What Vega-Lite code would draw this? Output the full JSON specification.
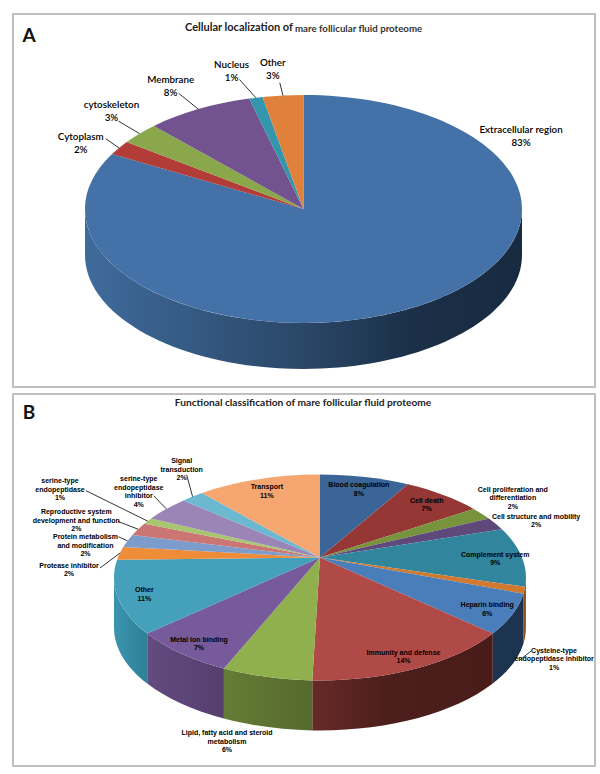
{"$schema":"https://vega.github.io/schema/vega-lite/v6.json","padding":{"left":12,"top":13,"right":5,"bottom":10},"background":"white","spacing":5,"resolve":{"scale":{"fill":"independent","x":"independent","y":"independent","shape":"independent"}},"config":{"view":{"stroke":"#bfbfbf","strokeWidth":2},"style":{"la":{"font":"Lato","fontSize":9.8,"fontWeight":600,"lineHeight":13,"fill":"#2b2b2b","align":"center","baseline":"middle"},"lb":{"font":"Liberation Sans","fontSize":7,"fontWeight":"bold","lineHeight":8.5,"fill":"#333333","align":"center","baseline":"middle"},"lc":{"font":"Liberation Sans","fontSize":7,"fontWeight":"bold","lineHeight":8.5,"fill":"#14142a","align":"center","baseline":"middle"},"lead":{"stroke":"#a6a6a6","strokeWidth":0.8}}},"vconcat":[{"width":582,"height":373,"layer":[{"data":{"values":[{"order":1,"name":"Extracellular region","value":83,"lines":["Extracellular region","83%"]},{"order":2,"name":"Cytoplasm","value":2,"lines":["Cytoplasm","2%"]},{"order":3,"name":"cytoskeleton","value":3,"lines":["cytoskeleton","3%"]},{"order":4,"name":"Membrane","value":8,"lines":["Membrane","8%"]},{"order":5,"name":"Nucleus","value":1,"lines":["Nucleus","1%"]},{"order":6,"name":"Other","value":3,"lines":["Other","3%"]}]},"transform":[{"stack":"value","groupby":[],"sort":[{"field":"order"}],"offset":"normalize","as":["f0","f1"]},{"calculate":"290.5","as":"cx"},{"calculate":"195","as":"cy"},{"calculate":"2*PI*datum.f0","as":"p1"},{"calculate":"2*PI*datum.f1","as":"p2"},{"calculate":"(datum.p1+datum.p2)/2","as":"pm"},{"calculate":"round(218.5*sin(datum.p1)*100)/100","as":"x1"},{"calculate":"round(-114*cos(datum.p1)*100)/100","as":"y1"},{"calculate":"round(218.5*sin(datum.p2)*100)/100","as":"x2"},{"calculate":"round(-114*cos(datum.p2)*100)/100","as":"y2"},{"calculate":"'M0,0L'+datum.x1+','+datum.y1+'A218.5,114 0 '+(datum.p2-datum.p1>PI?1:0)+' 1 '+datum.x2+','+datum.y2+'Z'","as":"top"},{"calculate":"max(datum.p1,PI/2)","as":"w1"},{"calculate":"min(datum.p2,3*PI/2)","as":"w2"},{"calculate":"round(218.5*sin(datum.w1)*100)/100","as":"wx1"},{"calculate":"round(-114*cos(datum.w1)*100)/100","as":"wy1"},{"calculate":"round(218.5*sin(datum.w2)*100)/100","as":"wx2"},{"calculate":"round(-114*cos(datum.w2)*100)/100","as":"wy2"},{"calculate":"'M'+datum.wx1+','+datum.wy1+'A218.5,114 0 0 1 '+datum.wx2+','+datum.wy2+'L'+datum.wx2+','+(datum.wy2+46)+'A218.5,114 0 0 0 '+datum.wx1+','+(datum.wy1+46)+'Z'","as":"wall"},{"calculate":"datum.cx+218.5*sin(datum.pm)","as":"rimx"},{"calculate":"datum.cy-114*cos(datum.pm)","as":"rimy"},{"calculate":"datum.cx+284*sin(datum.pm)","as":"lx"},{"calculate":"datum.cy-148*cos(datum.pm)","as":"ly"},{"calculate":"datum.ly-(length(datum.lines)-1)*6.5","as":"tly"}],"layer":[{"encoding":{"x":{"field":"cx","type":"quantitative","scale":null},"y":{"field":"cy","type":"quantitative","scale":null},"shape":{"field":"wall","type":"nominal","scale":null}},"layer":[{"transform":[{"filter":"datum.order===1"}],"mark":{"type":"point","filled":true,"opacity":1,"size":4,"strokeWidth":0,"fill":{"gradient":"linear","x1":0,"y1":0,"x2":1,"y2":0,"stops":[{"offset":0,"color":"#3f6b9c"},{"offset":0.5,"color":"#2a4767"},{"offset":0.75,"color":"#1b2f48"},{"offset":1,"color":"#172a40"}]}}}]},{"mark":{"type":"point","filled":true,"opacity":1,"size":4,"strokeWidth":0},"encoding":{"x":{"field":"cx","type":"quantitative","scale":null},"y":{"field":"cy","type":"quantitative","scale":null},"shape":{"field":"top","type":"nominal","scale":null},"fill":{"field":"name","type":"nominal","legend":null,"scale":{"domain":["Extracellular region","Cytoplasm","cytoskeleton","Membrane","Nucleus","Other"],"range":["#4471a7","#b23c38","#8aa84b","#72528f","#3496ad","#df813a"]}}}},{"encoding":{"x":{"field":"rimx","type":"quantitative","scale":null},"y":{"field":"rimy","type":"quantitative","scale":null},"x2":{"field":"lx"},"y2":{"field":"ly"}},"layer":[{"transform":[{"filter":"datum.name==='Cytoplasm'"}],"mark":{"type":"rule","style":"lead","x2Offset":42,"y2Offset":9}},{"transform":[{"filter":"datum.name==='cytoskeleton'"}],"mark":{"type":"rule","style":"lead","x2Offset":28,"y2Offset":10}},{"transform":[{"filter":"datum.name==='Membrane'"}],"mark":{"type":"rule","style":"lead","x2Offset":12,"y2Offset":14}},{"transform":[{"filter":"datum.name==='Nucleus'"}],"mark":{"type":"rule","style":"lead","x2Offset":-2,"y2Offset":15}},{"transform":[{"filter":"datum.name==='Other'"}],"mark":{"type":"rule","style":"lead","x2Offset":3,"y2Offset":21}}]},{"encoding":{"x":{"field":"lx","type":"quantitative","scale":null},"y":{"field":"tly","type":"quantitative","scale":null},"text":{"field":"lines"}},"layer":[{"transform":[{"filter":"datum.name==='Extracellular region'"}],"mark":{"type":"text","style":"la","dx":73,"dy":-200}},{"transform":[{"filter":"datum.name==='Cytoplasm'"}],"mark":{"type":"text","style":"la","dx":17,"dy":14}},{"transform":[{"filter":"datum.name==='cytoskeleton'"}],"mark":{"type":"text","style":"la","dx":21,"dy":0}},{"transform":[{"filter":"datum.name==='Membrane'"}],"mark":{"type":"text","style":"la","dx":4,"dy":7}},{"transform":[{"filter":"datum.name==='Nucleus'"}],"mark":{"type":"text","style":"la","dx":-10,"dy":7}},{"transform":[{"filter":"datum.name==='Other'"}],"mark":{"type":"text","style":"la","dx":-4,"dy":8}}]}]},{"data":{"values":[{"t":"A"}]},"mark":{"type":"text","font":"Lato","fontWeight":"bold","fontSize":19,"fill":"#111111","dx":-275,"dy":-165},"encoding":{"text":{"field":"t"}}},{"data":{"values":[{"t":"Cellular localization of"}]},"mark":{"type":"text","font":"Lato","fontWeight":"bold","fontSize":11,"fill":"#222222","align":"right","dx":-11,"dy":-173},"encoding":{"text":{"field":"t"}}},{"data":{"values":[{"t":"mare follicular fluid proteome"}]},"mark":{"type":"text","font":"Lato","fontWeight":"bold","fontSize":9.7,"fill":"#333333","align":"left","dx":-9,"dy":-172},"encoding":{"text":{"field":"t"}}}]},{"width":582,"height":372,"layer":[{"data":{"values":[{"order":1,"name":"Blood coagulation","value":8,"lines":["Blood coagulation","8%"]},{"order":2,"name":"Cell death","value":7,"lines":["Cell death","7%"]},{"order":3,"name":"Cell proliferation and differentiation","value":2,"lines":["Cell proliferation and","differentiation","2%"]},{"order":4,"name":"Cell structure and mobility","value":2,"lines":["Cell structure and mobility","2%"]},{"order":5,"name":"Complement system","value":9,"lines":["Complement system","9%"]},{"order":6,"name":"Cysteine-type endopeptidase inhibitor","value":1,"lines":["Cysteine-type","endopeptidase inhibitor","1%"]},{"order":7,"name":"Heparin binding","value":6,"lines":["Heparin binding","6%"]},{"order":8,"name":"Immunity and defense","value":14,"lines":["Immunity and defense","14%"]},{"order":9,"name":"Lipid, fatty acid and steroid metabolism","value":6,"lines":["Lipid, fatty acid and steroid","metabolism","6%"]},{"order":10,"name":"Metal ion binding","value":7,"lines":["Metal ion binding","7%"]},{"order":11,"name":"Other B","value":11,"lines":["Other","11%"]},{"order":12,"name":"Protease inhibitor","value":2,"lines":["Protease inhibitor","2%"]},{"order":13,"name":"Protein metabolism and modification","value":2,"lines":["Protein metabolism","and modification","2%"]},{"order":14,"name":"Reproductive system development and function","value":2,"lines":["Reproductive system","development and function","2%"]},{"order":15,"name":"serine-type endopeptidase","value":1,"lines":["serine-type","endopeptidase","1%"]},{"order":16,"name":"serine-type endopeptidase inhibitor","value":4,"lines":["serine-type","endopeptidase","inhibitor","4%"]},{"order":17,"name":"Signal transduction","value":2,"lines":["Signal","transduction","2%"]},{"order":18,"name":"Transport","value":11,"lines":["Transport","11%"]}]},"transform":[{"stack":"value","groupby":[],"sort":[{"field":"order"}],"offset":"normalize","as":["f0","f1"]},{"calculate":"307","as":"cx"},{"calculate":"183.5","as":"cy"},{"calculate":"2*PI*datum.f0","as":"a1"},{"calculate":"2*PI*datum.f1","as":"a2"},{"calculate":"datum.a1-0.157*sin(datum.a1)","as":"p1"},{"calculate":"datum.a2-0.157*sin(datum.a2)","as":"p2"},{"calculate":"(datum.a1+datum.a2)/2-0.157*sin((datum.a1+datum.a2)/2)","as":"pm"},{"calculate":"round(206*sin(datum.p1)*100)/100","as":"x1"},{"calculate":"round(-103*cos(datum.p1)*100)/100","as":"y1"},{"calculate":"round(206*sin(datum.p2)*100)/100","as":"x2"},{"calculate":"round(-103*cos(datum.p2)*100)/100","as":"y2"},{"calculate":"'M0,-20L'+datum.x1+','+datum.y1+'A206,103 0 '+(datum.p2-datum.p1>PI?1:0)+' 1 '+datum.x2+','+datum.y2+'Z'","as":"top"},{"calculate":"max(datum.p1,PI/2)","as":"w1"},{"calculate":"min(datum.p2,3*PI/2)","as":"w2"},{"calculate":"round(206*sin(datum.w1)*100)/100","as":"wx1"},{"calculate":"round(-103*cos(datum.w1)*100)/100","as":"wy1"},{"calculate":"round(206*sin(datum.w2)*100)/100","as":"wx2"},{"calculate":"round(-103*cos(datum.w2)*100)/100","as":"wy2"},{"calculate":"'M'+datum.wx1+','+datum.wy1+'A206,103 0 0 1 '+datum.wx2+','+datum.wy2+'L'+datum.wx2+','+(datum.wy2+50)+'A206,103 0 0 0 '+datum.wx1+','+(datum.wy1+50)+'Z'","as":"wall"},{"calculate":"datum.cx+206*sin(datum.pm)","as":"rimx"},{"calculate":"datum.cy-103*cos(datum.pm)","as":"rimy"},{"calculate":"datum.cx+251*sin(datum.pm)","as":"lx"},{"calculate":"datum.cy-125.7*cos(datum.pm)","as":"ly"},{"calculate":"datum.ly-(length(datum.lines)-1)*4.25","as":"tly"},{"calculate":"datum.cx+179*sin(datum.pm)","as":"ix"},{"calculate":"datum.cy-90*cos(datum.pm)-(length(datum.lines)-1)*4.25","as":"iy"}],"layer":[{"encoding":{"x":{"field":"cx","type":"quantitative","scale":null},"y":{"field":"cy","type":"quantitative","scale":null},"shape":{"field":"wall","type":"nominal","scale":null}},"layer":[{"transform":[{"filter":"datum.order===5"}],"mark":{"type":"point","filled":true,"opacity":1,"size":4,"strokeWidth":0,"fill":"#235f70"}},{"transform":[{"filter":"datum.order===6"}],"mark":{"type":"point","filled":true,"opacity":1,"size":4,"strokeWidth":0,"fill":"#8a5320"}},{"transform":[{"filter":"datum.order===7"}],"mark":{"type":"point","filled":true,"opacity":1,"size":4,"strokeWidth":0,"fill":"#1c3450"}},{"transform":[{"filter":"datum.order===8"}],"mark":{"type":"point","filled":true,"opacity":1,"size":4,"strokeWidth":0,"fill":{"gradient":"linear","x1":0,"y1":0,"x2":1,"y2":0,"stops":[{"offset":0,"color":"#662a28"},{"offset":0.4,"color":"#4d1f1c"},{"offset":1,"color":"#4a1c19"}]}}},{"transform":[{"filter":"datum.order===9"}],"mark":{"type":"point","filled":true,"opacity":1,"size":4,"strokeWidth":0,"fill":{"gradient":"linear","x1":0,"y1":0,"x2":1,"y2":0,"stops":[{"offset":0,"color":"#647d35"},{"offset":1,"color":"#56692f"}]}}},{"transform":[{"filter":"datum.order===10"}],"mark":{"type":"point","filled":true,"opacity":1,"size":4,"strokeWidth":0,"fill":{"gradient":"linear","x1":0,"y1":0,"x2":1,"y2":0,"stops":[{"offset":0,"color":"#634a80"},{"offset":1,"color":"#553f6e"}]}}},{"transform":[{"filter":"datum.order===11"}],"mark":{"type":"point","filled":true,"opacity":1,"size":4,"strokeWidth":0,"fill":{"gradient":"linear","x1":0,"y1":0,"x2":1,"y2":0,"stops":[{"offset":0,"color":"#3b94ae"},{"offset":1,"color":"#2f8097"}]}}}]},{"mark":{"type":"point","filled":true,"opacity":1,"size":4,"strokeWidth":0},"encoding":{"x":{"field":"cx","type":"quantitative","scale":null},"y":{"field":"cy","type":"quantitative","scale":null},"shape":{"field":"top","type":"nominal","scale":null},"fill":{"field":"name","type":"nominal","legend":null,"scale":{"domain":["Blood coagulation","Cell death","Cell proliferation and differentiation","Cell structure and mobility","Complement system","Cysteine-type endopeptidase inhibitor","Heparin binding","Immunity and defense","Lipid, fatty acid and steroid metabolism","Metal ion binding","Other B","Protease inhibitor","Protein metabolism and modification","Reproductive system development and function","serine-type endopeptidase","serine-type endopeptidase inhibitor","Signal transduction","Transport"],"range":["#3b6596","#953735","#77933c","#5f497a","#31859c","#d17a2f","#4a7ebb","#b04a47","#8fb04d","#765a9b","#45a0bc","#ef8c37","#7c9dcc","#cc7575","#a8c570","#9b84b6","#6bb8d0","#f5a671"]}}}},{"encoding":{"x":{"field":"rimx","type":"quantitative","scale":null},"y":{"field":"rimy","type":"quantitative","scale":null},"x2":{"field":"lx"},"y2":{"field":"ly"}},"layer":[{"transform":[{"filter":"datum.order===15"}],"mark":{"type":"rule","style":"lead","x2Offset":-24,"y2Offset":-18}},{"transform":[{"filter":"datum.order===14"}],"mark":{"type":"rule","style":"lead","x2Offset":20,"y2Offset":3}},{"transform":[{"filter":"datum.order===13"}],"mark":{"type":"rule","style":"lead","x2Offset":33,"y2Offset":4}},{"transform":[{"filter":"datum.order===12"}],"mark":{"type":"rule","style":"lead","x2Offset":24,"y2Offset":20}},{"transform":[{"filter":"datum.order===16"}],"mark":{"type":"rule","style":"lead","x2Offset":21,"y2Offset":2}},{"transform":[{"filter":"datum.order===17"}],"mark":{"type":"rule","style":"lead","x2Offset":22,"y2Offset":-4}},{"transform":[{"filter":"datum.order===6"}],"mark":{"type":"rule","style":"lead","xOffset":-5,"yOffset":70,"x2Offset":-38,"y2Offset":58}}]},{"transform":[{"filter":"indexof([1,2,5,7,8,10,11,18],datum.order)>=0"}],"mark":{"type":"text","style":"lc"},"encoding":{"x":{"field":"ix","type":"quantitative","scale":null},"y":{"field":"iy","type":"quantitative","scale":null},"text":{"field":"lines"}}},{"encoding":{"x":{"field":"lx","type":"quantitative","scale":null},"y":{"field":"tly","type":"quantitative","scale":null},"text":{"field":"lines"}},"layer":[{"transform":[{"filter":"datum.order===3"}],"mark":{"type":"text","style":"lb","dx":-4,"dy":-1}},{"transform":[{"filter":"datum.order===4"}],"mark":{"type":"text","style":"lb","dx":2,"dy":9}},{"transform":[{"filter":"datum.order===6"}],"mark":{"type":"text","style":"lb","dx":-15,"dy":66}},{"transform":[{"filter":"datum.order===9"}],"mark":{"type":"text","style":"lb","dx":-28,"dy":43}},{"transform":[{"filter":"datum.order===12"}],"mark":{"type":"text","style":"lb","dx":-7,"dy":22}},{"transform":[{"filter":"datum.order===13"}],"mark":{"type":"text","style":"lb","dx":0,"dy":13}},{"transform":[{"filter":"datum.order===14"}],"mark":{"type":"text","style":"lb","dx":-22,"dy":2}},{"transform":[{"filter":"datum.order===15"}],"mark":{"type":"text","style":"lb","dx":-50,"dy":-19}},{"transform":[{"filter":"datum.order===16"}],"mark":{"type":"text","style":"lb","dx":6,"dy":-2}},{"transform":[{"filter":"datum.order===17"}],"mark":{"type":"text","style":"lb","dx":17,"dy":-9}}]}]},{"data":{"values":[{"t":"B"}]},"mark":{"type":"text","font":"Lato","fontWeight":"bold","fontSize":19,"fill":"#111111","dx":-275,"dy":-167},"encoding":{"text":{"field":"t"}}},{"data":{"values":[{"t":"Functional classification of mare follicular fluid  proteome"}]},"mark":{"type":"text","font":"Lato","fontWeight":"bold","fontSize":10.2,"fill":"#222222","dy":-177,"dx":-1},"encoding":{"text":{"field":"t"}}}]}]}
